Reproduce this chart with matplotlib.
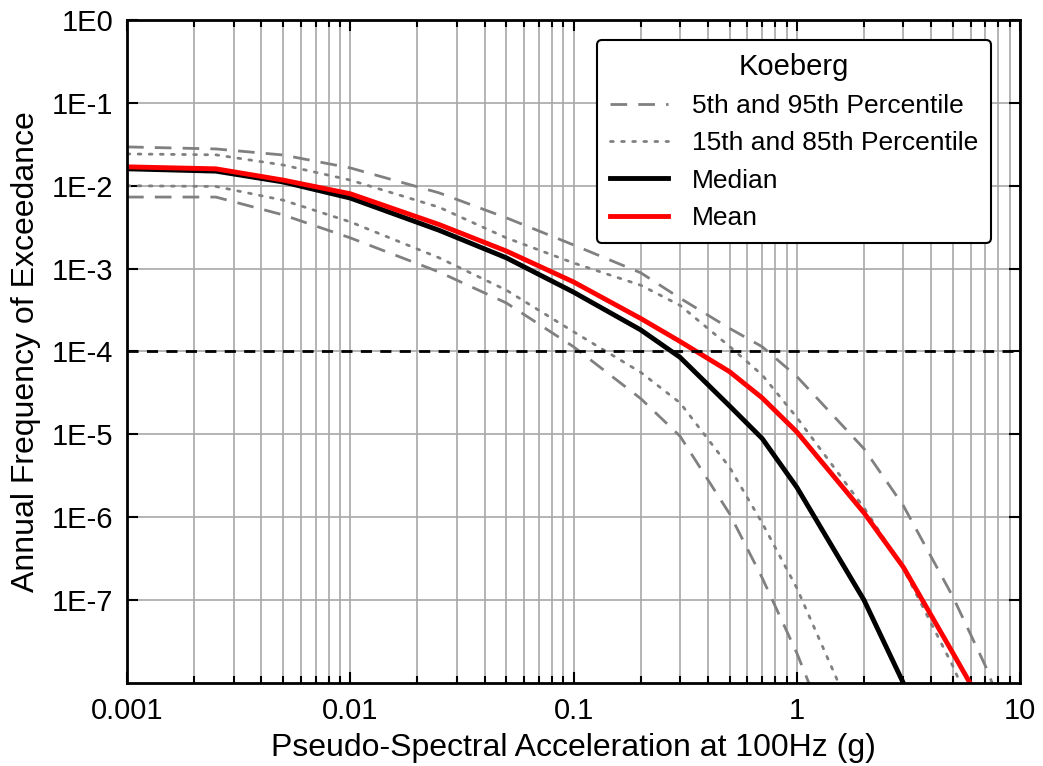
import matplotlib
matplotlib.use("Agg")
import matplotlib.pyplot as plt
from matplotlib.ticker import FixedLocator, FixedFormatter, LogLocator, NullFormatter

plt.rcParams['font.family'] = ['Liberation Sans', 'DejaVu Sans']

# hazard curve data
psa = [0.001, 0.0025, 0.005, 0.01, 0.025, 0.05, 0.1, 0.2, 0.3, 0.5, 0.7, 1, 2, 3, 5, 7, 10]

p05 = [0.0073, 0.0073, 0.00445, 0.00235, 9.1e-4, 3.85e-4, 1.14e-4, 2.7e-5, 9.5e-6,
       1.1e-6, 1.85e-7, 2.3e-8, 2.2e-10, 1e-11, 1e-12, 1e-13, 1e-14]
p15 = [0.0100, 0.0098, 0.0067, 0.00366, 0.00135, 5.5e-4, 1.73e-4, 5.6e-5, 2.4e-5,
       4.0e-6, 8.5e-7, 1.4e-7, 2e-9, 1.4e-10, 1e-12, 1e-13, 1e-14]
p85 = [0.0242, 0.0236, 0.0178, 0.0117, 0.0055, 0.00235, 0.00117, 6.3e-4, 3.6e-4,
       1.15e-4, 5.2e-5, 1.6e-5, 1.3e-6, 2.4e-7, 1.6e-8, 2e-9, 1.7e-10]
p95 = [0.0294, 0.0278, 0.0235, 0.0164, 0.0082, 0.0041, 0.00193, 8.9e-4, 4.4e-4,
       1.9e-4, 1.14e-4, 5.0e-5, 6.7e-6, 1.38e-6, 1.1e-7, 1.6e-8, 1.4e-9]
median = [0.0160, 0.0150, 0.0111, 0.0071, 0.0029, 0.00135, 5.2e-4, 1.82e-4, 8.5e-5,
          2.2e-5, 8.9e-6, 2.3e-6, 1e-7, 1e-8, 5e-10, 1e-11, 1e-12]
mean = [0.0169, 0.0160, 0.0117, 0.0080, 0.0034, 0.00163, 6.9e-4, 2.5e-4, 1.32e-4,
        5.7e-5, 2.75e-5, 1.07e-5, 1.13e-6, 2.5e-7, 2.3e-8, 4.7e-9, 8.5e-10]

ref_level = 1e-4

y_ticks = [1e0, 1e-1, 1e-2, 1e-3, 1e-4, 1e-5, 1e-6, 1e-7]
y_labels = ["1E0", "1E-1", "1E-2", "1E-3", "1E-4", "1E-5", "1E-6", "1E-7"]
x_ticks = [0.001, 0.01, 0.1, 1, 10]
x_labels = ["0.001", "0.01", "0.1", "1", "10"]

fig = plt.figure(figsize=(10.43, 7.66), dpi=100)
ax = fig.add_axes([0.1218, 0.1084, 0.8562, 0.8655])

gray = "#808080"
ax.plot(psa, p95, color=gray, lw=2, dashes=(6, 4), label="5th and 95th Percentile")
ax.plot(psa, p05, color=gray, lw=2, dashes=(6, 4))
ax.plot(psa, p85, color=gray, lw=2, linestyle=(0, (1, 3)), dash_capstyle="round",
        label="15th and 85th Percentile")
ax.plot(psa, p15, color=gray, lw=2, linestyle=(0, (1, 3)), dash_capstyle="round")
ax.plot(psa, median, color="black", lw=3.5, label="Median")
ax.plot(psa, mean, color="#ff0000", lw=3.5, label="Mean")
ax.axhline(ref_level, color="black", lw=2, dashes=(4, 3))

ax.set_xscale("log")
ax.set_yscale("log")
ax.set_xlim(0.001, 10)
ax.set_ylim(1e-8, 1)

ax.yaxis.set_major_locator(FixedLocator(y_ticks))
ax.yaxis.set_major_formatter(FixedFormatter(y_labels))
ax.yaxis.set_minor_locator(FixedLocator([]))
ax.xaxis.set_major_locator(FixedLocator(x_ticks))
ax.xaxis.set_major_formatter(FixedFormatter(x_labels))
ax.xaxis.set_minor_locator(LogLocator(base=10, subs=range(2, 10)))
ax.xaxis.set_minor_formatter(NullFormatter())

ax.grid(True, which="major", color="#a8a8a8", lw=1.2)
ax.grid(True, which="minor", axis="x", color="#a8a8a8", lw=1.2)
ax.set_axisbelow(True)

ax.tick_params(which="both", direction="in", top=True, right=True, width=1.5,
               labelsize=21, pad=10)
ax.tick_params(which="major", length=8)
ax.tick_params(which="minor", length=5)
for s in ax.spines.values():
    s.set_linewidth(2)

ax.set_xlabel("Pseudo-Spectral Acceleration at 100Hz (g)", fontsize=23, labelpad=6)
ax.set_ylabel("Annual Frequency of Exceedance", fontsize=23, labelpad=8)

leg = ax.legend(title="Koeberg", loc="upper right", bbox_to_anchor=(0.9675, 0.97),
                fontsize=19, title_fontsize=21,
                frameon=True, fancybox=True, edgecolor="black", framealpha=1,
                handlelength=2.2, handletextpad=0.9, borderaxespad=0,
                labelspacing=0.5, borderpad=0.5)
leg.get_frame().set_linewidth(1.5)

fig.savefig("out.png", dpi=100)
